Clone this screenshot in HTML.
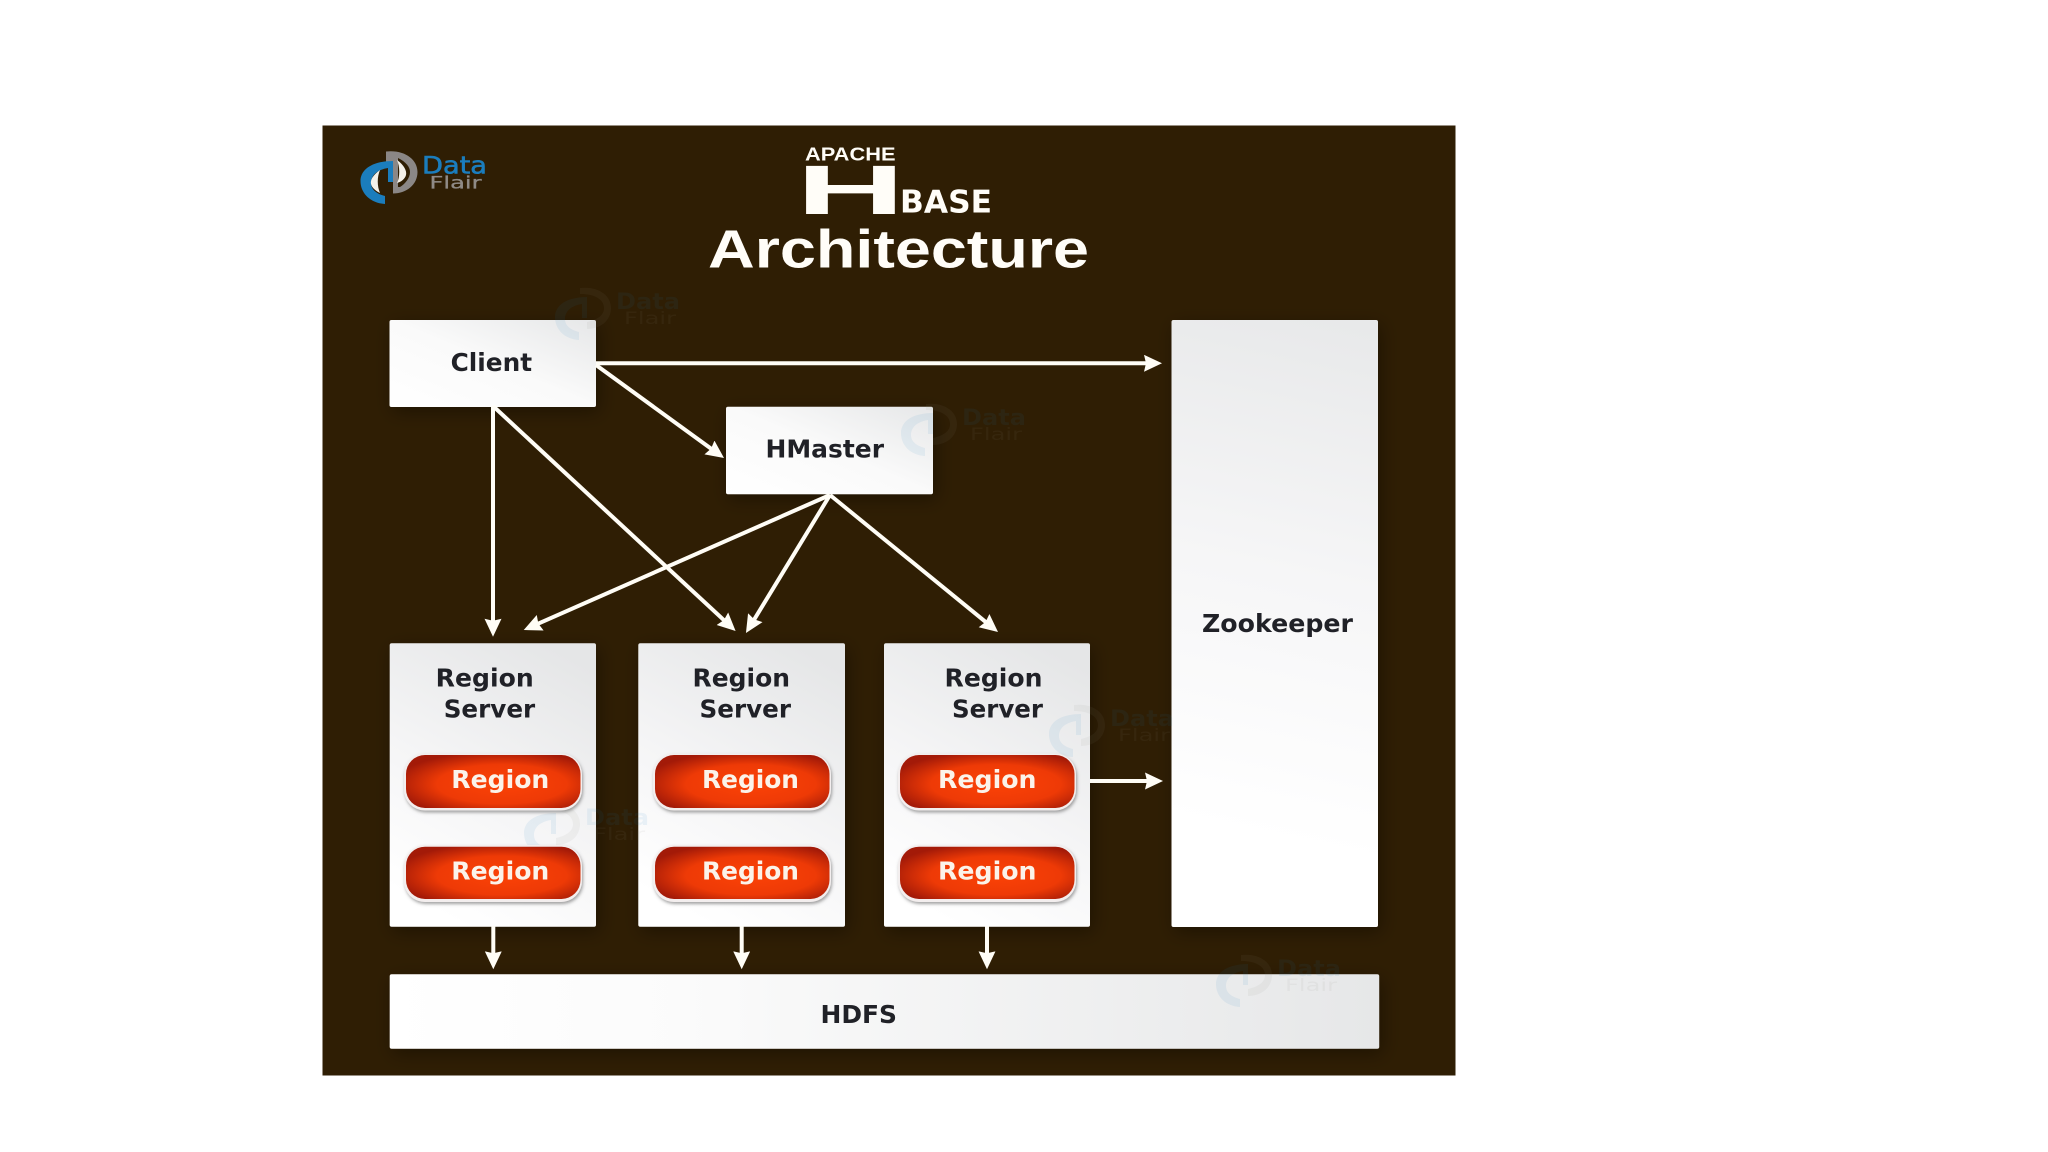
<!DOCTYPE html>
<html><head><meta charset="utf-8"><title>Apache HBase Architecture</title>
<style>html,body{margin:0;padding:0;background:#fff;width:2048px;height:1152px;overflow:hidden}svg{display:block}
.b{font-family:"DejaVu Sans",sans-serif;font-weight:bold;font-size:25px;fill:#202127}
.p{font-family:"DejaVu Sans",sans-serif;font-weight:bold;font-size:25px;fill:#fbf3ea}
.l{font-family:"Liberation Sans",sans-serif;font-weight:bold;fill:#fffdf8}
</style></head><body>
<svg width="2048" height="1152" viewBox="0 0 2048 1152" xmlns="http://www.w3.org/2000/svg">
<defs>
<linearGradient id="gc" x1="0" y1="1" x2="1" y2="0"><stop offset="0" stop-color="#fff"/><stop offset=".5" stop-color="#fafafa"/><stop offset="1" stop-color="#e6e7e8"/></linearGradient>
<linearGradient id="gr" x1=".75" y1="0" x2=".35" y2="1"><stop offset="0" stop-color="#e5e6e7"/><stop offset=".55" stop-color="#f5f5f6"/><stop offset="1" stop-color="#fff"/></linearGradient>
<linearGradient id="gz" gradientUnits="userSpaceOnUse" x1="1340" y1="320" x2="1230" y2="830"><stop offset="0" stop-color="#e8e9ea"/><stop offset=".5" stop-color="#f6f6f7"/><stop offset="1" stop-color="#fff"/></linearGradient>
<linearGradient id="gh" x1="0" y1="0" x2="1" y2="0"><stop offset="0" stop-color="#fff"/><stop offset=".3" stop-color="#fbfbfb"/><stop offset="1" stop-color="#e6e7e8"/></linearGradient>
<radialGradient id="gp" cx=".55" cy=".55" r=".62"><stop offset="0" stop-color="#fb4206"/><stop offset=".6" stop-color="#ee3a06"/><stop offset="1" stop-color="#a31a08"/></radialGradient>
<filter id="sh" x="-20%" y="-20%" width="140%" height="140%"><feDropShadow dx="3" dy="5" stdDeviation="9" flood-color="#000" flood-opacity=".35"/></filter>
<filter id="ps" x="-10%" y="-20%" width="120%" height="150%"><feDropShadow dx="1" dy="2" stdDeviation="1.5" flood-color="#555" flood-opacity=".55"/></filter>
<marker id="a" markerUnits="userSpaceOnUse" markerWidth="20" markerHeight="20" refX="6" refY="8.5" orient="auto"><path d="M0,0 L18,8.5 L0,17 L2,8.5Z" fill="#fffdf6"/></marker>
</defs>

<rect x="322.5" y="125.5" width="1133" height="950" fill="#2f1e04"/>

<!-- logo -->
<path d="M386,151.5 C404,149.5 417.5,159 417.5,172 C417.5,185 406,193.5 393,193.5 L393,162 L386,162Z" fill="#8b8786"/>
<path d="M398,158 C406,162 410,167 410,172 C410,178 405,184 400,187 L398,187Z" fill="#2f1e04"/>
<path d="M393,161 L393,182 L388,182 L388,168 C376,170 371,176 371,183 C371,190 377,194 385,196 L385,204 C370,203 360.5,193 360.5,181 C360.5,169 373,161 393,161Z" fill="#1b7dbd"/>
<path d="M397,160 C404,165 407,171 406,175 C405,179 401,182 397,183 C400,177 400,167 397,160Z" fill="#f4f1ea"/>
<path d="M380,170 C373,175 370,180 371,184 C372,188 376,191 380,193 C377,186 377,177 380,170Z" fill="#f4f1ea"/>
<text x="422" y="173.5" font-family="DejaVu Sans,sans-serif" font-size="24" fill="#1b7dbd" stroke="#1b7dbd" stroke-width=".6" textLength="65" lengthAdjust="spacingAndGlyphs">Data</text>
<text x="429.5" y="188.5" font-family="DejaVu Sans,sans-serif" font-size="17" fill="#8f8a86" stroke="#8f8a86" stroke-width=".3" textLength="52" lengthAdjust="spacingAndGlyphs">Flair</text>

<!-- title -->
<text class="l" x="805" y="160.5" font-size="18" textLength="90.5" lengthAdjust="spacingAndGlyphs">APACHE</text>
<text class="l" x="796" y="214" font-size="70" textLength="109" lengthAdjust="spacingAndGlyphs">H</text>
<text x="900" y="212.5" font-family="DejaVu Sans,sans-serif" font-weight="bold" font-size="31" fill="#fffdf8" textLength="92" lengthAdjust="spacingAndGlyphs">BASE</text>
<text class="l" x="708" y="267.5" font-size="54" textLength="381" lengthAdjust="spacingAndGlyphs">Architecture</text>

<!-- boxes -->
<g filter="url(#sh)">
<rect x="389.5" y="320" width="206.5" height="87" rx="2" fill="url(#gc)"/>
<rect x="726" y="406.7" width="207" height="87.5" rx="2" fill="url(#gc)"/>
<rect x="1171.5" y="320" width="206.5" height="607" rx="2" fill="url(#gz)"/>
<rect x="389.7" y="643.3" width="206.3" height="283.4" rx="2" fill="url(#gr)"/>
<rect x="638.3" y="643.3" width="206.7" height="283.4" rx="2" fill="url(#gr)"/>
<rect x="884" y="643.3" width="206" height="283.4" rx="2" fill="url(#gr)"/>
<rect x="389.7" y="974.3" width="989.5" height="74.4" rx="2" fill="url(#gh)"/>
</g>

<!-- watermarks -->
<g opacity=".08">
<g transform="translate(194,136)"><path d="M386,152 C404,150 417,159 417,172 C417,185 406,193 393,193 L393,186 C402,184 410,180 410,172 C410,163 400,158 386,158Z" fill="#8b8786"/><path d="M393,161 L393,182 L388,182 L388,168 C376,170 371,176 371,183 C371,190 377,194 385,196 L385,204 C370,203 361,193 361,181 C361,169 373,161 393,161Z" fill="#1b7dbd"/><text x="422" y="173" font-family="DejaVu Sans,sans-serif" font-weight="bold" font-size="22" fill="#1b7dbd" textLength="64" lengthAdjust="spacingAndGlyphs">Data</text><text x="430" y="188" font-family="DejaVu Sans,sans-serif" font-size="17" fill="#8f8a86" textLength="52" lengthAdjust="spacingAndGlyphs">Flair</text></g>
<g transform="translate(540,252)"><path d="M386,152 C404,150 417,159 417,172 C417,185 406,193 393,193 L393,186 C402,184 410,180 410,172 C410,163 400,158 386,158Z" fill="#8b8786"/><path d="M393,161 L393,182 L388,182 L388,168 C376,170 371,176 371,183 C371,190 377,194 385,196 L385,204 C370,203 361,193 361,181 C361,169 373,161 393,161Z" fill="#1b7dbd"/><text x="422" y="173" font-family="DejaVu Sans,sans-serif" font-weight="bold" font-size="22" fill="#1b7dbd" textLength="64" lengthAdjust="spacingAndGlyphs">Data</text><text x="430" y="188" font-family="DejaVu Sans,sans-serif" font-size="17" fill="#8f8a86" textLength="52" lengthAdjust="spacingAndGlyphs">Flair</text></g>
<g transform="translate(163,652)"><path d="M386,152 C404,150 417,159 417,172 C417,185 406,193 393,193 L393,186 C402,184 410,180 410,172 C410,163 400,158 386,158Z" fill="#8b8786"/><path d="M393,161 L393,182 L388,182 L388,168 C376,170 371,176 371,183 C371,190 377,194 385,196 L385,204 C370,203 361,193 361,181 C361,169 373,161 393,161Z" fill="#1b7dbd"/><text x="422" y="173" font-family="DejaVu Sans,sans-serif" font-weight="bold" font-size="22" fill="#1b7dbd" textLength="64" lengthAdjust="spacingAndGlyphs">Data</text><text x="430" y="188" font-family="DejaVu Sans,sans-serif" font-size="17" fill="#8f8a86" textLength="52" lengthAdjust="spacingAndGlyphs">Flair</text></g>
<g transform="translate(688,553)"><path d="M386,152 C404,150 417,159 417,172 C417,185 406,193 393,193 L393,186 C402,184 410,180 410,172 C410,163 400,158 386,158Z" fill="#8b8786"/><path d="M393,161 L393,182 L388,182 L388,168 C376,170 371,176 371,183 C371,190 377,194 385,196 L385,204 C370,203 361,193 361,181 C361,169 373,161 393,161Z" fill="#1b7dbd"/><text x="422" y="173" font-family="DejaVu Sans,sans-serif" font-weight="bold" font-size="22" fill="#1b7dbd" textLength="64" lengthAdjust="spacingAndGlyphs">Data</text><text x="430" y="188" font-family="DejaVu Sans,sans-serif" font-size="17" fill="#8f8a86" textLength="52" lengthAdjust="spacingAndGlyphs">Flair</text></g>
<g transform="translate(855,803)"><path d="M386,152 C404,150 417,159 417,172 C417,185 406,193 393,193 L393,186 C402,184 410,180 410,172 C410,163 400,158 386,158Z" fill="#8b8786"/><path d="M393,161 L393,182 L388,182 L388,168 C376,170 371,176 371,183 C371,190 377,194 385,196 L385,204 C370,203 361,193 361,181 C361,169 373,161 393,161Z" fill="#1b7dbd"/><text x="422" y="173" font-family="DejaVu Sans,sans-serif" font-weight="bold" font-size="22" fill="#1b7dbd" textLength="64" lengthAdjust="spacingAndGlyphs">Data</text><text x="430" y="188" font-family="DejaVu Sans,sans-serif" font-size="17" fill="#8f8a86" textLength="52" lengthAdjust="spacingAndGlyphs">Flair</text></g>
</g>

<!-- pills -->
<g>
<rect x="404" y="753.5" width="178" height="57" rx="21" fill="#f3eeee" filter="url(#ps)"/><rect x="406" y="755" width="174.5" height="53" rx="19" fill="url(#gp)"/>
<rect x="404" y="845" width="178" height="57" rx="21" fill="#f3eeee" filter="url(#ps)"/><rect x="406" y="846.7" width="174.5" height="52.3" rx="19" fill="url(#gp)"/>
<rect x="653" y="753.5" width="178" height="57" rx="21" fill="#f3eeee" filter="url(#ps)"/><rect x="655" y="755" width="174.5" height="53" rx="19" fill="url(#gp)"/>
<rect x="653" y="845" width="178" height="57" rx="21" fill="#f3eeee" filter="url(#ps)"/><rect x="655" y="846.7" width="174.5" height="52.3" rx="19" fill="url(#gp)"/>
<rect x="898" y="753.5" width="178" height="57" rx="21" fill="#f3eeee" filter="url(#ps)"/><rect x="900" y="755" width="174.5" height="53" rx="19" fill="url(#gp)"/>
<rect x="898" y="845" width="178" height="57" rx="21" fill="#f3eeee" filter="url(#ps)"/><rect x="900" y="846.7" width="174.5" height="52.3" rx="19" fill="url(#gp)"/>
</g>

<!-- connectors -->
<g stroke="#fffdf6" stroke-width="4" fill="none">
<line x1="596" y1="363.3" x2="1150" y2="363.3" marker-end="url(#a)"/>
<line x1="596" y1="365" x2="714.3" y2="451" marker-end="url(#a)"/>
<line x1="493" y1="406" x2="493" y2="624.7" marker-end="url(#a)"/>
<line x1="493" y1="406" x2="726.8" y2="622.8" marker-end="url(#a)"/>
<line x1="830" y1="495" x2="534.7" y2="625.2" marker-end="url(#a)"/>
<line x1="830" y1="495" x2="752.2" y2="622.8" marker-end="url(#a)"/>
<line x1="830" y1="495" x2="988.7" y2="624.4" marker-end="url(#a)"/>
<line x1="1090" y1="781" x2="1151" y2="781" marker-end="url(#a)"/>
<line x1="493.3" y1="926" x2="493.3" y2="957.3" marker-end="url(#a)"/>
<line x1="741.7" y1="926" x2="741.7" y2="957.3" marker-end="url(#a)"/>
<line x1="987" y1="926" x2="987" y2="957.3" marker-end="url(#a)"/>
</g>

<!-- labels -->
<text class="b" x="450.6" y="371" textLength="81.5" lengthAdjust="spacingAndGlyphs">Client</text>
<text class="b" x="765.5" y="457.5" textLength="118.5" lengthAdjust="spacingAndGlyphs">HMaster</text>
<text class="b" x="1202" y="632" textLength="151" lengthAdjust="spacingAndGlyphs">Zookeeper</text>
<text class="b" x="820.5" y="1023" textLength="76.5" lengthAdjust="spacingAndGlyphs">HDFS</text>

<text class="b" x="435.7" y="686.7" textLength="98" lengthAdjust="spacingAndGlyphs">Region</text>
<text class="b" x="443.7" y="717.7" textLength="91.5" lengthAdjust="spacingAndGlyphs">Server</text>
<text class="b" x="692.5" y="686.7" textLength="97.5" lengthAdjust="spacingAndGlyphs">Region</text>
<text class="b" x="699.5" y="717.7" textLength="91.5" lengthAdjust="spacingAndGlyphs">Server</text>
<text class="b" x="944.5" y="686.7" textLength="98" lengthAdjust="spacingAndGlyphs">Region</text>
<text class="b" x="952" y="717.7" textLength="91" lengthAdjust="spacingAndGlyphs">Server</text>

<text class="p" x="451.3" y="788" textLength="98" lengthAdjust="spacingAndGlyphs">Region</text>
<text class="p" x="451.3" y="879.3" textLength="98" lengthAdjust="spacingAndGlyphs">Region</text>
<text class="p" x="702" y="788" textLength="97" lengthAdjust="spacingAndGlyphs">Region</text>
<text class="p" x="702" y="879.3" textLength="97" lengthAdjust="spacingAndGlyphs">Region</text>
<text class="p" x="938" y="788" textLength="98.5" lengthAdjust="spacingAndGlyphs">Region</text>
<text class="p" x="938" y="879.3" textLength="98.5" lengthAdjust="spacingAndGlyphs">Region</text>
</svg>
</body></html>
